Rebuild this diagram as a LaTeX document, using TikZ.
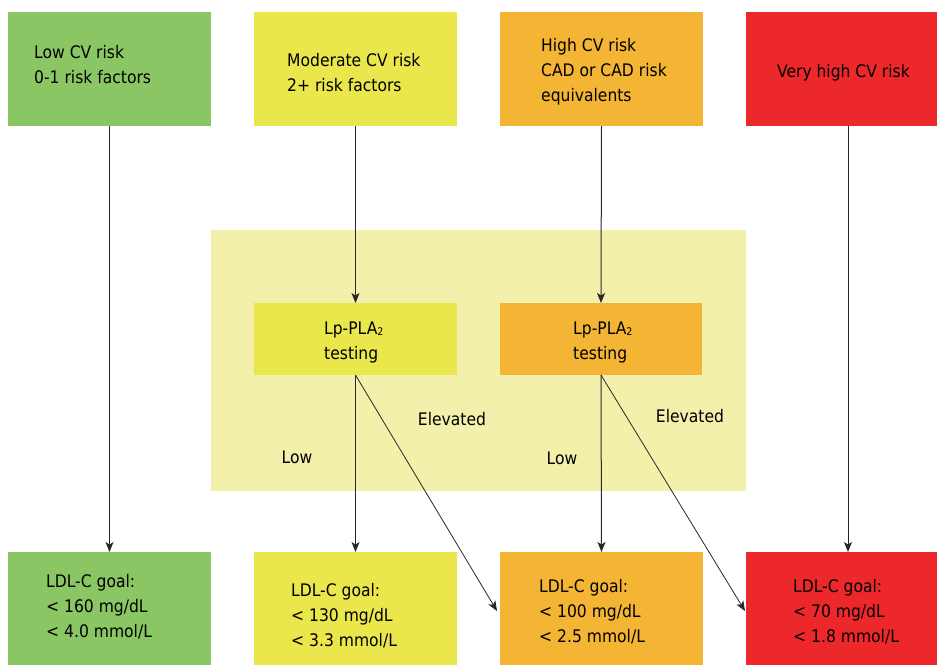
\documentclass[tikz,border=0pt]{standalone}
\usepackage{fontspec}
\setmainfont{DejaVu Sans Condensed}
\usetikzlibrary{arrows.meta}

\definecolor{riskgreen}{RGB}{139,198,100}
\definecolor{riskyellow}{RGB}{233,231,76}
\definecolor{riskorange}{RGB}{244,180,52}
\definecolor{riskred}{RGB}{237,40,42}
\definecolor{panelyellow}{RGB}{242,240,170}
\definecolor{linegray}{RGB}{40,40,40}

\newcommand{\lpsub}{\raisebox{-1pt}{\fontsize{10.5}{10.5}\selectfont 2}}

\begin{document}
\begin{tikzpicture}[x=1pt,y=-1pt,
  box/.style={rectangle, draw=none, inner sep=0pt, outer sep=0pt, anchor=north west},
  topbox/.style={box, minimum width=203pt, minimum height=114pt},
  goalbox/.style={box, minimum width=203pt, minimum height=118pt},
  txt/.style={anchor=west, align=left, inner sep=0pt, font=\fontsize{17.3}{25}\selectfont},
  lbl/.style={inner sep=0pt, font=\fontsize{17.3}{25}\selectfont},
  arr/.style={draw=linegray, line width=1pt, -{Stealth[length=10pt,width=8pt,inset=2.5pt]}},
  diag/.style={arr, line width=0.8pt}]

  \useasboundingbox (0,0) rectangle (937,664);
  \fill[white] (0,0) rectangle (937,664);

  % testing panel behind the Lp-PLA2 boxes
  \node[box, fill=panelyellow, minimum width=535pt, minimum height=261pt] (panel) at (211,230) {};

  % risk categories
  \node[topbox, fill=riskgreen]  (low)  at (8,12)   {};
  \node[topbox, fill=riskyellow] (mod)  at (254,12) {};
  \node[topbox, fill=riskorange] (high) at (500,12) {};
  \node[topbox, fill=riskred, minimum width=204pt] (vhigh) at (746,12) {};

  \node[txt] (lowtxt)   at (34,64.5)  {Low CV risk\\0-1 risk factors};
  \node[txt] (modtxt)   at (287,72.5) {Moderate CV risk\\2+ risk factors};
  \node[txt] (hightxt)  at (541,72)   {High CV risk\\CAD or CAD risk\\equivalents};
  \node[txt] (vhightxt) at (777,72.8) {Very high CV risk};

  % Lp-PLA2 testing
  \node[box, fill=riskyellow, minimum width=203pt, minimum height=72pt] (lp1) at (254,303) {};
  \node[box, fill=riskorange, minimum width=202pt, minimum height=72pt] (lp2) at (500,303) {};
  \node[txt] (lp1txt) at (324,342.5) {Lp-PLA\lpsub\\testing};
  \node[txt] (lp2txt) at (573,342.5) {Lp-PLA\lpsub\\testing};

  % result labels
  \node[lbl] (elev1) at (452,419) {Elevated};
  \node[lbl] (low1)  at (297,457) {Low};
  \node[lbl] (low2)  at (562,458) {Low};
  \node[lbl] (elev2) at (690,416) {Elevated};

  % LDL-C goals
  \node[goalbox, fill=riskgreen]  (lowgoal)  at (8,552)   {};
  \node[goalbox, fill=riskyellow] (modgoal)  at (254,552) {};
  \node[goalbox, fill=riskorange] (highgoal) at (500,552) {};
  \node[goalbox, fill=riskred, minimum width=204pt] (vhighgoal) at (746,552) {};

  \node[txt] (lowgoaltxt)   at (46,607)    {LDL-C goal:\\< 160 mg/dL\\< 4.0 mmol/L};
  \node[txt] (modgoaltxt)   at (291,615.5) {LDL-C goal:\\< 130 mg/dL\\< 3.3 mmol/L};
  \node[txt] (highgoaltxt)  at (539,612)   {LDL-C goal:\\< 100 mg/dL\\< 2.5 mmol/L};
  \node[txt] (vhighgoaltxt) at (793,612)   {LDL-C goal:\\< 70 mg/dL\\< 1.8 mmol/L};

  % connectors
  \draw[arr] (low.south) -- (lowgoal.north);
  \draw[arr] (mod.south) -- (lp1.north);
  \draw[arr] (high.south) -- (lp2.north);
  \draw[arr] (vhigh.south) -- (vhighgoal.north);
  \draw[arr] (lp1.south) -- (modgoal.north);
  \draw[arr] (lp2.south) -- (highgoal.north);
  \draw[diag] (lp1.south) -- ([xshift=-3pt]highgoal.west);
  \draw[diag] (lp2.south) -- ([xshift=-1pt]vhighgoal.west);
\end{tikzpicture}
\end{document}
